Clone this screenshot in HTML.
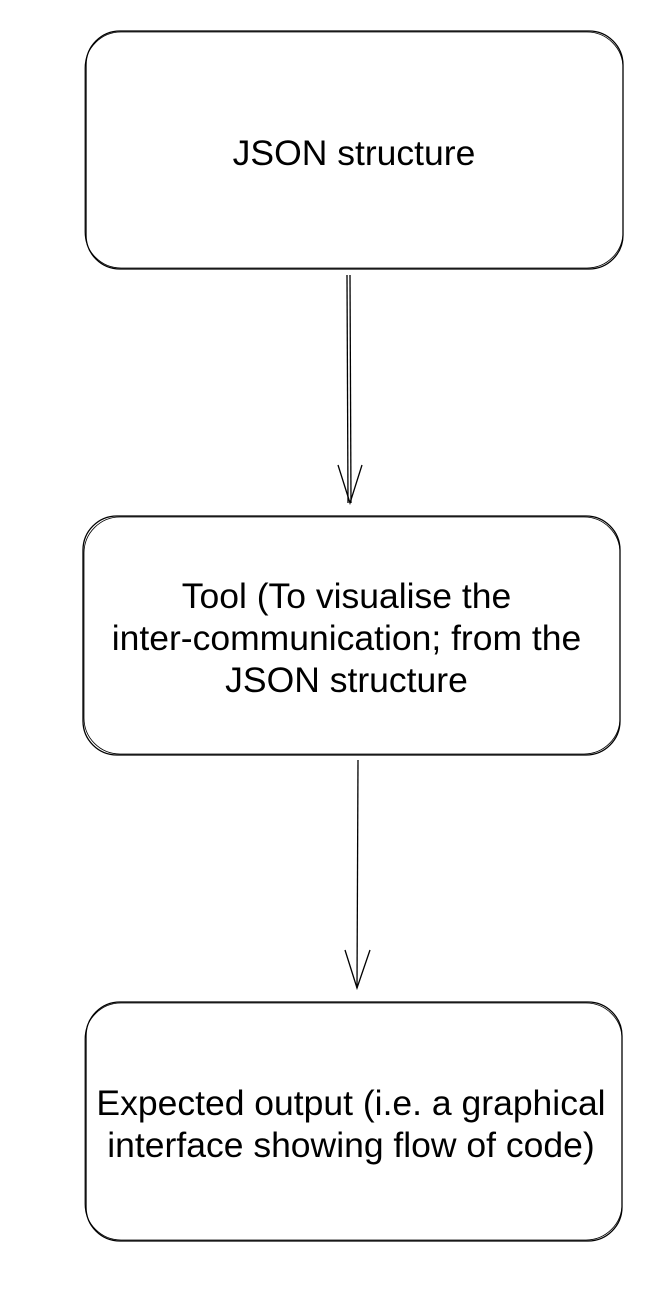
<!DOCTYPE html>
<html><head><style>
body{margin:0;background:#fff;width:666px;height:1290px;overflow:hidden;position:relative;font-family:"Liberation Sans",Arial,sans-serif;}
.t{position:absolute;text-align:center;font-size:35.5px;line-height:42px;color:#000;white-space:nowrap;}
</style></head><body>
<svg width="666" height="1290" style="position:absolute;left:0;top:0" fill="none" stroke="#000" stroke-width="1.3">
<rect x="86" y="31" width="537" height="238" rx="34"/>
<rect x="85" y="32" width="538" height="236" rx="36" stroke-width="0.8"/>
<rect x="83" y="516" width="537" height="239" rx="34"/>
<rect x="84" y="517" width="536" height="237" rx="36" stroke-width="0.8"/>
<rect x="86" y="1002" width="536" height="239" rx="34"/>
<rect x="85" y="1003" width="537" height="237" rx="36" stroke-width="0.8"/>
<line x1="347" y1="275" x2="348" y2="503"/>
<line x1="350" y1="275" x2="351" y2="503"/>
<path d="M338 465 L350 503 L362 465"/>
<line x1="358" y1="760" x2="357" y2="988"/>
<path d="M345 950 L357 988 L370 950"/>
</svg>
<div class="t" style="left:85px;width:538px;top:132px">JSON structure</div>
<div class="t" style="left:78px;width:537px;top:575px">Tool (To visualise the<br>inter-communication; from the<br>JSON structure</div>
<div class="t" style="left:83px;width:536px;top:1082px">Expected output (i.e. a graphical<br>interface showing flow of code)</div>
</body></html>
